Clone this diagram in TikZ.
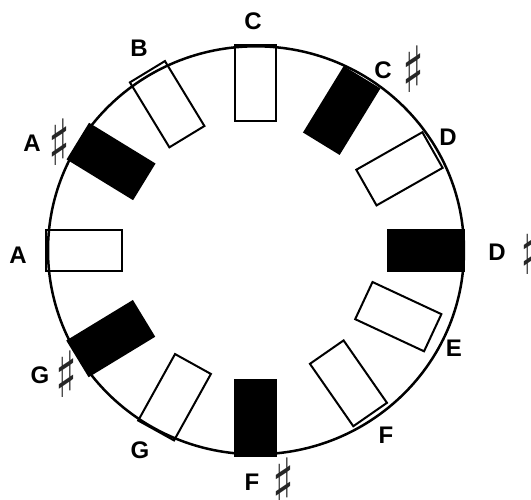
\documentclass[tikz,border=0pt]{standalone}
\usepackage{fontspec}
\usepackage{graphicx}
\newfontfamily\notefont{Liberation Sans}
\newfontfamily\symfont{DejaVu Sans}[BoldFont={DejaVu Sans Bold}]
\usetikzlibrary{positioning}
\newcommand{\sharpsign}{\scalebox{0.78}[1.1]{\symfont\bfseries\fontsize{58}{58}\selectfont ♯}}

\begin{document}
\begin{tikzpicture}[
    x=1pt, y=1pt,
    ring/.style={line width=2.5pt},
    natural/.style={rectangle, draw, line width=2pt, minimum width=41pt, minimum height=76pt, inner sep=0pt},
    accidental/.style={natural, fill=black},
    note/.style={font=\notefont\bfseries\fontsize{24}{24}\selectfont, inner sep=0pt},
    sharp/.style={inner sep=0pt, text=black!85, yshift=1pt}
]
\useasboundingbox (-256,-248.7) rectangle (275,250.3);
\draw[ring] (0,0) ellipse [x radius=208, y radius=204];
% keys round the circle
\node[natural, rotate=0] (c) at (90:167.5) {};
\node[accidental, rotate=-31.5] (cs) at (58.5:164) {};
\node[natural, rotate=-60.4] (d) at (29.6:165) {};
\node[accidental, rotate=-90] (ds) at (0:170.5) {};
\node[natural, rotate=-115] (e) at (-25:157) {};
\node[natural, rotate=-145.2] (f) at (-55.2:162) {};
\node[accidental, rotate=-180] (fs) at (-90:167.5) {};
\node[natural, rotate=-209] (g) at (-119:168) {};
\node[accidental, rotate=-238.7] (gs) at (-148.7:170) {};
\node[natural, rotate=90] (a) at (180:171.5) {};
\node[accidental, rotate=58.5] (as) at (148.5:170) {};
\node[natural, rotate=31.3] (b) at (121.3:171) {};
% note names
\node[note] (cLabel) at (-3,229.3) {C};
\node[note] (csLabel) at (127,180.3) {C};
\node[sharp, right=10pt of csLabel] (csSharp) {\sharpsign};
\node[note] (dLabel) at (192,113.3) {D};
\node[note] (dsLabel) at (241,-1.7) {D};
\node[sharp, right=14pt of dsLabel] (dsSharp) {\sharpsign};
\node[note] (eLabel) at (198,-97.7) {E};
\node[note] (fLabel) at (130,-184.7) {F};
\node[note] (fsLabel) at (-4,-231.7) {F};
\node[sharp, right=13pt of fsLabel] (fsSharp) {\sharpsign};
\node[note] (gLabel) at (-116,-199.7) {G};
\node[note] (gsLabel) at (-216,-124.7) {G};
\node[sharp, right=6pt of gsLabel] (gsSharp) {\sharpsign};
\node[note] (aLabel) at (-238,-4.7) {A};
\node[note] (asLabel) at (-224,107.3) {A};
\node[sharp, right=7pt of asLabel] (asSharp) {\sharpsign};
\node[note] (bLabel) at (-117,202.3) {B};
\end{tikzpicture}
\end{document}
